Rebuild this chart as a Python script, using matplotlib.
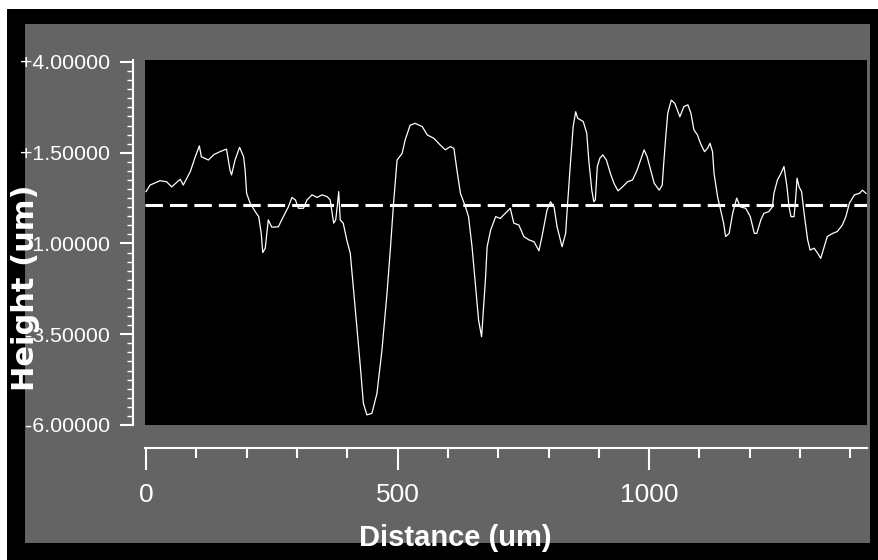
import matplotlib
matplotlib.use("Agg")
import matplotlib.pyplot as plt
from matplotlib.patches import Rectangle
from matplotlib.ticker import FixedLocator, MultipleLocator, FormatStrFormatter

# Profile scan: distance along the scan line (um) and measured height (um)
distance_um = [
    0, 8, 28, 41, 51, 68, 74, 88, 98, 106, 110, 124, 135, 147, 160, 167, 170, 177,
    186, 194, 197, 200, 207, 217, 224, 229, 232, 237, 243, 250, 263, 273, 283, 290,
    297, 303, 313, 320, 330, 340, 350, 360, 366, 373, 377, 380, 383, 386, 392, 399,
    406, 412, 419, 426, 432, 439, 449, 459, 469, 479, 486, 492, 499, 509, 515, 525,
    535, 549, 559, 572, 585, 595, 605, 612, 618, 625, 635, 641, 648, 655, 661, 667,
    675, 678, 685, 695, 704, 714, 724, 731, 741, 751, 761, 771, 781, 787, 797, 804,
    811, 817, 827, 834, 838, 844, 849, 854, 858, 869, 876, 880, 886, 890, 893, 897,
    902, 908, 915, 923, 930, 938, 947, 957, 967, 976, 983, 990, 996, 1003, 1010,
    1020, 1026, 1029, 1033, 1037, 1044, 1051, 1056, 1061, 1069, 1077, 1083, 1089,
    1096, 1102, 1110, 1116, 1121, 1126, 1129, 1136, 1142, 1148, 1152, 1159, 1166,
    1174, 1181, 1192, 1201, 1209, 1214, 1222, 1228, 1238, 1245, 1248, 1255, 1262,
    1268, 1274, 1278, 1282, 1288, 1291, 1294, 1298, 1303, 1308, 1315, 1320, 1328,
    1335, 1341, 1348, 1354, 1365, 1374, 1384, 1391, 1398, 1408, 1418, 1424, 1431,
]
height_um = [
    0.43, 0.61, 0.73, 0.70, 0.56, 0.77, 0.61, 0.98, 1.39, 1.69, 1.39, 1.30, 1.45,
    1.53, 1.60, 1.02, 0.89, 1.30, 1.65, 1.39, 1.02, 0.38, 0.11, -0.12, -0.26, -0.72,
    -1.25, -1.13, -0.35, -0.55, -0.54, -0.26, 0.01, 0.27, 0.20, -0.03, -0.03, 0.20,
    0.34, 0.27, 0.34, 0.29, 0.20, -0.44, -0.35, 0.01, 0.43, -0.35, -0.44, -0.90,
    -1.27, -2.19, -3.29, -4.39, -5.40, -5.72, -5.68, -5.13, -3.93, -2.37, -1.09,
    0.11, 1.30, 1.48, 1.85, 2.26, 2.31, 2.22, 1.99, 1.90, 1.71, 1.58, 1.67, 1.62,
    1.02, 0.38, 0.01, -0.26, -1.09, -2.19, -3.11, -3.57,
    -1.91, -1.09, -0.63, -0.26, -0.31, -0.17, -0.03, -0.44, -0.49, -0.81, -0.90,
    -0.95, -1.20, -0.81, -0.08, 0.15, 0.01, -0.54, -1.09, -0.72, 0.11, 1.30, 2.22,
    2.63, 2.45, 2.36, 2.04, 1.30, 0.47, 0.15, 0.20, 1.12, 1.35, 1.44, 1.30, 0.93,
    0.66, 0.45, 0.56, 0.70, 0.75, 1.02, 1.30, 1.58, 1.39, 1.02, 0.66, 0.47, 0.61,
    1.21, 1.94, 2.59, 2.95, 2.86, 2.68, 2.49, 2.77, 2.82, 2.59, 2.13, 1.99, 1.76,
    1.53, 1.62, 1.76, 1.53, 0.93, 0.29, -0.08, -0.44, -0.81, -0.72, -0.17, 0.25,
    0.01, -0.03, -0.26, -0.72, -0.72, -0.35, -0.17, -0.12, 0.01, 0.38, 0.75, 0.93,
    1.12, 0.56, 0.01, -0.26, -0.26, 0.20, 0.80, 0.56, 0.43, -0.17, -0.90, -1.18,
    -1.13, -1.27, -1.41, -1.09, -0.81, -0.72, -0.67, -0.49, -0.26, 0.11, 0.34, 0.38,
    0.47, 0.38,
]
mean_level = 0.05

height_ticks = [-6.0, -3.5, -1.0, 1.5, 4.0]
distance_ticks = [0, 500, 1000]

W, H = 879, 560
SANS = ["Liberation Sans", "DejaVu Sans"]


def fig_rect(x0, y0, x1, y1):
    # pixel box (origin top-left) -> figure fraction
    return [x0 / W, 1 - y1 / H, (x1 - x0) / W, (y1 - y0) / H]


fig = plt.figure(figsize=(W / 100, H / 100), dpi=100, facecolor="white")

# black frame and the grey panel behind the plot
r = fig_rect(7, 9, W, H)
fig.patches.append(Rectangle((r[0], r[1]), r[2], r[3], transform=fig.transFigure,
                             facecolor="black", edgecolor="none", zorder=-10))
r = fig_rect(25, 24, 870, 543)
fig.patches.append(Rectangle((r[0], r[1]), r[2], r[3], transform=fig.transFigure,
                             facecolor="#646464", edgecolor="none", zorder=-9))

ax = fig.add_axes(fig_rect(145, 60, 867, 425))
ax.set_facecolor("black")

ax.plot(distance_um, height_um, color="white", lw=0.9)
ax.axhline(mean_level, color="white", lw=2.2, linestyle=(0, (5.7, 2.3)))

ax.set_xlim(-2, 1433)
ax.set_ylim(-6.0, 4.055)

for side in ["top", "right"]:
    ax.spines[side].set_visible(False)
ax.spines["left"].set_position(("outward", 8.6))
ax.spines["bottom"].set_position(("outward", 16.6))
for side in ["left", "bottom"]:
    ax.spines[side].set_color("white")
    ax.spines[side].set_linewidth(1.5)

ax.yaxis.set_major_locator(FixedLocator(height_ticks))
ax.yaxis.set_minor_locator(MultipleLocator(0.25))
ax.yaxis.set_major_formatter(FormatStrFormatter("%+.5f"))
ax.xaxis.set_major_locator(FixedLocator(distance_ticks))
ax.xaxis.set_minor_locator(MultipleLocator(100))

ax.tick_params(axis="y", which="major", length=9.5, width=1.5, color="white",
               labelcolor="white", pad=7)
ax.tick_params(axis="y", which="minor", length=4, width=1, color="white")
ax.tick_params(axis="x", which="major", length=16, width=1.5, color="white",
               labelcolor="white", pad=9)
ax.tick_params(axis="x", which="minor", length=7, width=1.5, color="white")

for lab in ax.get_yticklabels():
    lab.set_fontfamily(SANS)
    lab.set_fontsize(15.4)
for lab in ax.get_xticklabels():
    lab.set_fontfamily(SANS)
    lab.set_fontsize(19)

fig.text(455 / W, 1 - 538 / H, "Distance (um)", color="white", fontsize=21,
         fontweight="bold", family=SANS, ha="center", va="center")
fig.text(26 / W, 1 - 288 / H, "Height (um)", color="white", fontsize=22,
         fontweight="bold", family="DejaVu Sans", rotation=90,
         ha="center", va="center")

fig.savefig("out.png", dpi=100, facecolor=fig.get_facecolor())
